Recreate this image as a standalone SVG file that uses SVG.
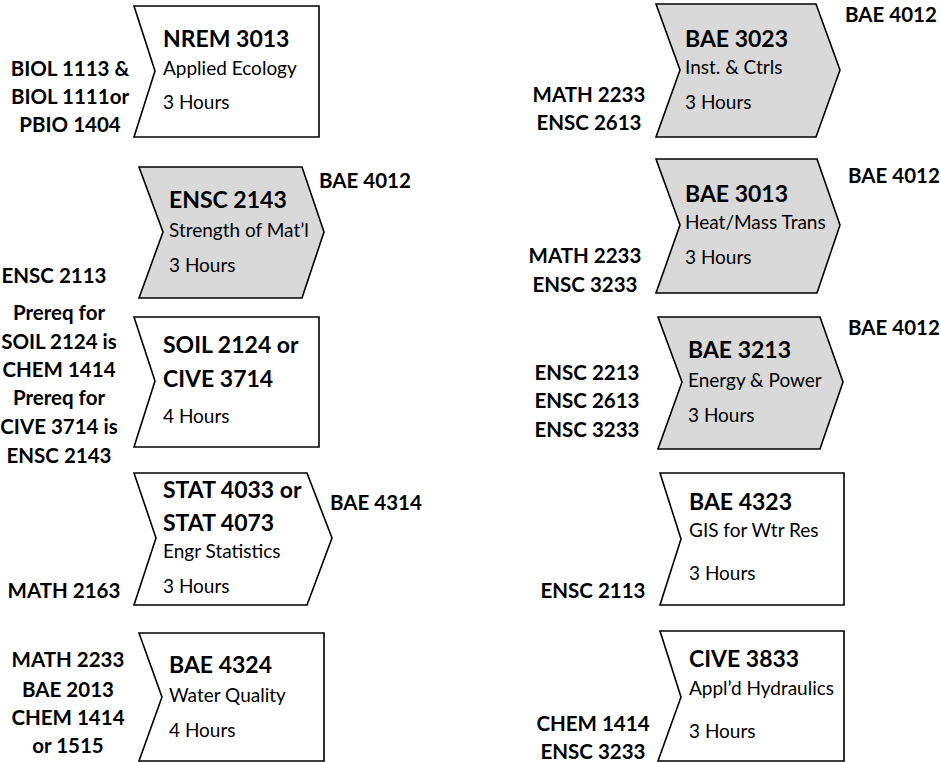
<svg xmlns="http://www.w3.org/2000/svg" width="941" height="762" viewBox="0 0 941 762">
<style>
.shape{stroke:#000;stroke-width:1.6;stroke-linejoin:miter}
.w{fill:#fff}
.g{fill:#d9d9d9}
text{font-family:Lato,"Open Sans","Noto Sans",sans-serif;fill:#000}
.t{font-size:23px;font-weight:bold}
.s{font-size:19px}
.l{font-size:20.5px;font-weight:bold}
.c{text-anchor:middle}
</style>
<rect x="0" y="0" width="941" height="762" fill="#fff"/>
<g id="connectors"></g>

<g id="nrem3013">
<path class="shape w" d="M134,6 L319,6 L319,137 L134,137 L155,71 Z"/>
<text class="t" x="163" y="47">NREM 3013</text>
<text class="s" x="163" y="75">Applied Ecology</text>
<text class="s" x="163" y="109">3 Hours</text>
<text class="l c" x="70" y="76">BIOL 1113 &amp;</text>
<text class="l c" x="70" y="104">BIOL 1111or</text>
<text class="l c" x="70" y="132">PBIO 1404</text>
</g>

<g id="ensc2143">
<path class="shape g" d="M139,167 L302,167 L324,232 L302,298 L139,298 L163,232 Z"/>
<text class="t" x="169" y="208">ENSC 2143</text>
<text class="s" x="169" y="237">Strength of Mat’l</text>
<text class="s" x="169" y="272">3 Hours</text>
<text class="l" x="319" y="188">BAE 4012</text>
<text class="l c" x="54" y="283">ENSC 2113</text>
</g>

<g id="soil2124">
<path class="shape w" d="M134,317 L319,317 L319,447 L134,447 L155,381 Z"/>
<text class="t" x="163" y="353">SOIL 2124 or</text>
<text class="t" x="163" y="387">CIVE 3714</text>
<text class="s" x="163" y="423">4 Hours</text>
<text class="l c" x="59" y="320">Prereq for</text>
<text class="l c" x="59" y="349">SOIL 2124 is</text>
<text class="l c" x="59" y="377">CHEM 1414</text>
<text class="l c" x="59" y="405">Prereq for</text>
<text class="l c" x="59" y="434">CIVE 3714 is</text>
<text class="l c" x="59" y="463">ENSC 2143</text>
</g>

<g id="stat4033">
<path class="shape w" d="M134,473 L307,473 L332,538 L307,605 L134,605 L156,538 Z"/>
<text class="t" x="163" y="498">STAT 4033 or</text>
<text class="t" x="163" y="531">STAT 4073</text>
<text class="s" x="163" y="558">Engr Statistics</text>
<text class="s" x="163" y="593">3 Hours</text>
<text class="l" x="330" y="510">BAE 4314</text>
<text class="l c" x="64" y="598">MATH 2163</text>
</g>

<g id="bae4324">
<path class="shape w" d="M139,633 L324,633 L324,761 L139,761 L162,697 Z"/>
<text class="t" x="169" y="673">BAE 4324</text>
<text class="s" x="169" y="702">Water Quality</text>
<text class="s" x="169" y="737">4 Hours</text>
<text class="l c" x="68" y="667">MATH 2233</text>
<text class="l c" x="68" y="697">BAE 2013</text>
<text class="l c" x="68" y="725">CHEM 1414</text>
<text class="l c" x="68" y="753">or 1515</text>
</g>

<g id="bae3023">
<path class="shape g" d="M656,4 L816,4 L840,70 L816,137 L656,137 L680,70 Z"/>
<text class="t" x="685" y="47">BAE 3023</text>
<text class="s" x="685" y="74">Inst. &amp; Ctrls</text>
<text class="s" x="685" y="109">3 Hours</text>
<text class="l" x="845" y="22">BAE 4012</text>
<text class="l c" x="589" y="102">MATH 2233</text>
<text class="l c" x="589" y="130">ENSC 2613</text>
</g>

<g id="bae3013">
<path class="shape g" d="M656,159 L817,159 L840,225 L817,293 L656,293 L680,225 Z"/>
<text class="t" x="685" y="202">BAE 3013</text>
<text class="s" x="685" y="229">Heat/Mass Trans</text>
<text class="s" x="685" y="264">3 Hours</text>
<text class="l" x="848" y="183">BAE 4012</text>
<text class="l c" x="585" y="263">MATH 2233</text>
<text class="l c" x="585" y="292">ENSC 3233</text>
</g>

<g id="bae3213">
<path class="shape g" d="M658,317 L820,317 L843,382 L820,449 L658,449 L682,382 Z"/>
<text class="t" x="688" y="358">BAE 3213</text>
<text class="s" x="688" y="387">Energy &amp; Power</text>
<text class="s" x="688" y="422">3 Hours</text>
<text class="l" x="848" y="335">BAE 4012</text>
<text class="l c" x="587" y="380">ENSC 2213</text>
<text class="l c" x="587" y="408">ENSC 2613</text>
<text class="l c" x="587" y="437">ENSC 3233</text>
</g>

<g id="bae4323">
<path class="shape w" d="M660,473 L844,473 L844,605 L660,605 L681,539 Z"/>
<text class="t" x="689" y="510">BAE 4323</text>
<text class="s" x="689" y="537">GIS for Wtr Res</text>
<text class="s" x="689" y="580">3 Hours</text>
<text class="l c" x="593" y="598">ENSC 2113</text>
</g>

<g id="cive3833">
<path class="shape w" d="M660,631 L844,631 L844,761 L658,761 L681,697 Z"/>
<text class="t" x="689" y="667">CIVE 3833</text>
<text class="s" x="689" y="695">Appl’d Hydraulics</text>
<text class="s" x="689" y="738">3 Hours</text>
<text class="l c" x="593" y="731">CHEM 1414</text>
<text class="l c" x="593" y="759">ENSC 3233</text>
</g>
</svg>
